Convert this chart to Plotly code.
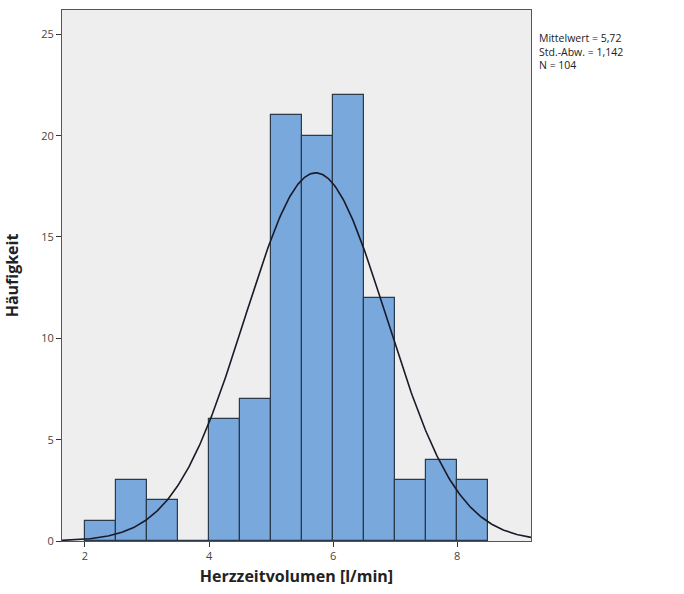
import numpy as np
import plotly.graph_objects as go

bin_starts = [2.0, 2.5, 3.0, 3.5, 4.0, 4.5, 5.0, 5.5, 6.0, 6.5, 7.0, 7.5, 8.0]
counts = [1, 3, 2, 0, 6, 7, 21, 20, 22, 12, 3, 4, 3]
bin_width = 0.5
mean_val = 5.72
std_val = 1.142
n_val = 104
x_ticks = [2, 4, 6, 8]
y_ticks = [0, 5, 10, 15, 20, 25]

centers = [s + bin_width / 2 for s in bin_starts]

xs = np.linspace(1.63, 9.19, 400)
ys = n_val * bin_width / (std_val * np.sqrt(2 * np.pi)) * np.exp(-0.5 * ((xs - mean_val) / std_val) ** 2)

fig = go.Figure()
fig.add_trace(go.Bar(x=centers, y=counts, width=bin_width,
                     marker=dict(color="#79A8DC", line=dict(color="#2B3A4A", width=1.2)),
                     showlegend=False))
fig.add_trace(go.Scatter(x=xs, y=ys, mode="lines",
                         line=dict(color="#1A1A28", width=1.6), showlegend=False))

fig.update_layout(
    width=684, height=594,
    margin=dict(l=62, r=153, t=10, b=53),
    plot_bgcolor="#EEEEEE", paper_bgcolor="white",
    bargap=0,
    font=dict(family="Open Sans, DejaVu Sans, sans-serif", color="#333333"),
    xaxis=dict(range=[1.63, 9.19], tickvals=x_ticks, ticks="outside", ticklen=5,
               tickcolor="#333333", showgrid=False, zeroline=False,
               showline=True, linecolor="#555555", mirror=True, linewidth=1,
               tickfont=dict(size=11, color="#444444"),
               title=dict(text="<b>Herzzeitvolumen [l/min]</b>", font=dict(size=16, color="#222222"), standoff=8)),
    yaxis=dict(range=[0, 26.2], tickvals=y_ticks, ticks="outside", ticklen=5,
               tickcolor="#333333", showgrid=False, zeroline=False,
               showline=True, linecolor="#555555", mirror=True, linewidth=1,
               tickfont=dict(size=11, color="#444444"),
               title=dict(text="<b>Häufigkeit</b>", font=dict(size=16, color="#222222"), standoff=18)),
    annotations=[dict(xref="paper", yref="paper", x=1.013, y=0.965, xanchor="left", yanchor="top",
                      align="left", showarrow=False,
                      text=f"Mittelwert = 5,72<br>Std.-Abw. = 1,142<br>N = {n_val}",
                      font=dict(size=10.5, color="#222222"))]
)

fig.write_html("out.html")
